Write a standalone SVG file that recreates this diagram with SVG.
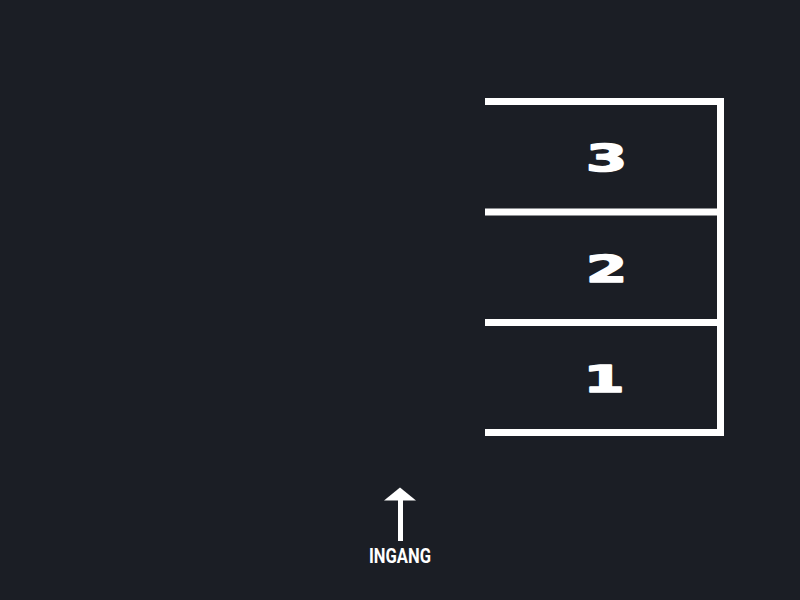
<svg xmlns="http://www.w3.org/2000/svg" width="800" height="600" viewBox="0 0 800 600">
<style>
.ln{stroke:#ffffff;stroke-width:7;fill:none}
.num{font-family:"DejaVu Sans",sans-serif;font-weight:bold;font-size:37px;fill:#ffffff;stroke:#ffffff;stroke-width:1.6;stroke-linejoin:round;text-anchor:middle}
.lbl{font-family:Roboto,"Liberation Sans",sans-serif;font-weight:bold;font-size:19.5px;fill:#ffffff;text-anchor:middle}
</style>
<rect width="800" height="600" fill="#1b1e25"/>
<g id="frame">
<path class="ln" d="M485 101.5H720.5V432.5H485"/>
<path class="ln" d="M485 212H720.5"/>
<path class="ln" d="M485 322.5H720.5"/>
</g>
<g id="slot-3"><text class="num" transform="translate(606.5,171) scale(1.6,1)">3</text></g>
<g id="slot-2"><text class="num" transform="translate(606.5,282) scale(1.6,1)">2</text></g>
<g id="slot-1"><text class="num" transform="translate(604,392) scale(1.6,1)">1</text></g>
<g id="entrance">
<rect x="398" y="499" width="5" height="42" fill="#ffffff"/>
<polygon points="400,487.5 416,500.5 384,500.5" fill="#ffffff"/>
<text class="lbl" x="400" y="563" textLength="62" lengthAdjust="spacingAndGlyphs">INGANG</text>
</g>
</svg>
